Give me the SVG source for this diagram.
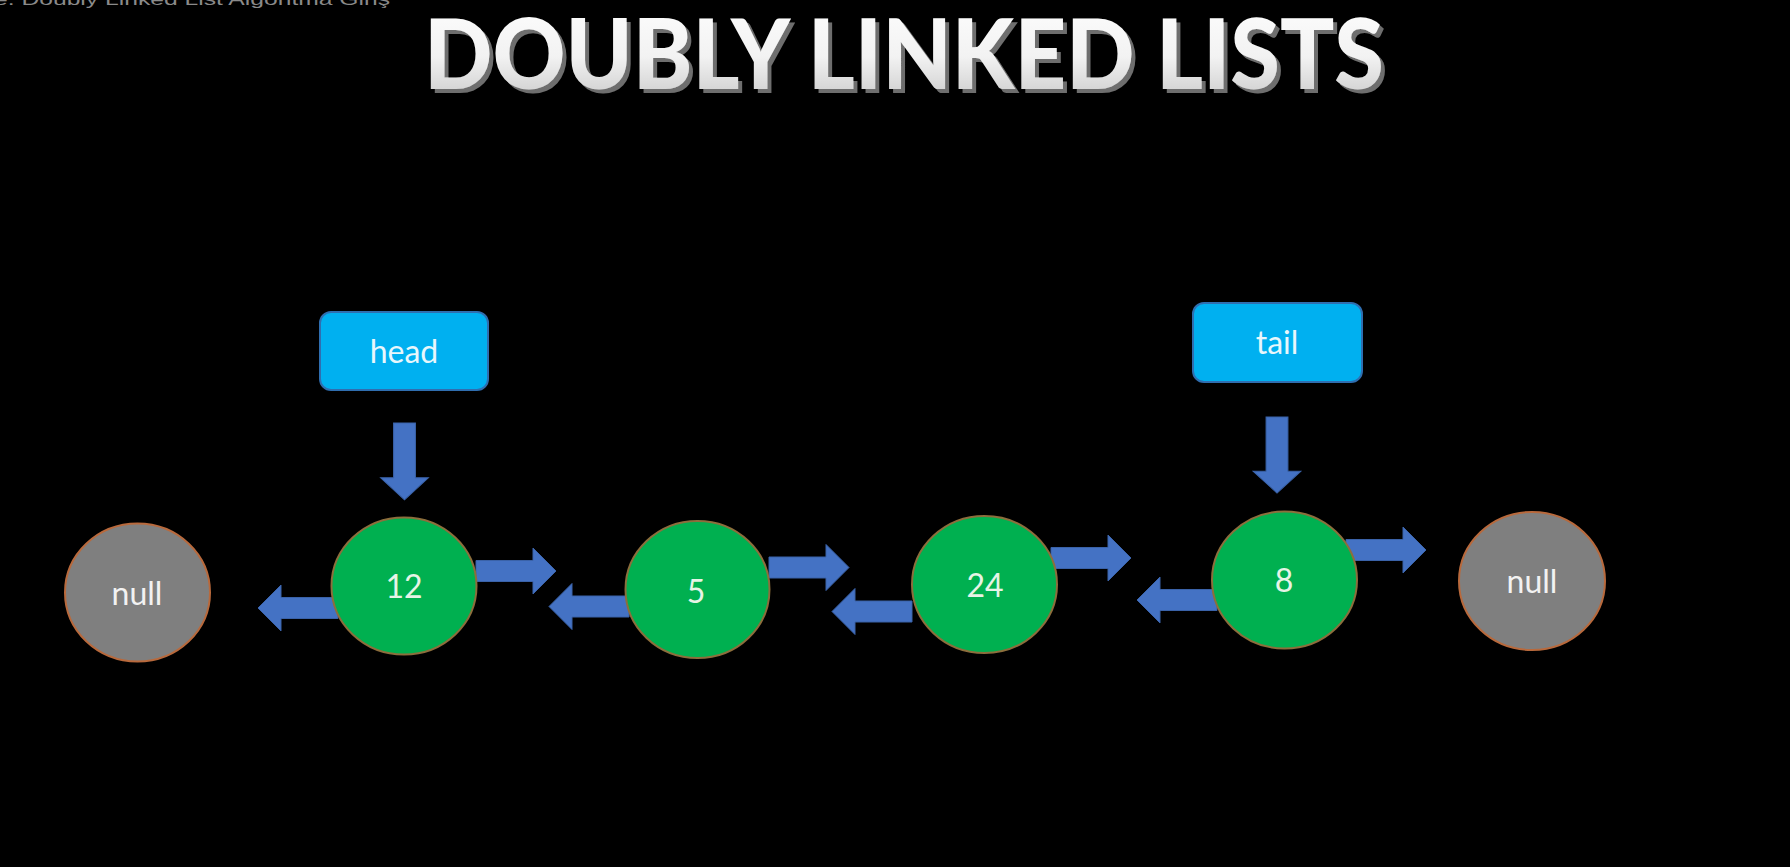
<svg xmlns="http://www.w3.org/2000/svg" xmlns:xlink="http://www.w3.org/1999/xlink" width="1790" height="867" viewBox="0 0 1790 867">
  <style>
    .title { font-family: Lato, "Open Sans", "DejaVu Sans", sans-serif; font-weight: 900; font-size: 98px; }
    .lbl { font-family: Lato, "Open Sans", "DejaVu Sans", sans-serif; font-size: 32px; text-anchor: middle; }
    .node { fill: #00B050; stroke: #8C6E3C; stroke-width: 2; }
    .null { fill: #7F7F7F; stroke: #B8693C; stroke-width: 2; }
    .box { fill: #00B0F0; stroke: #2F6EB0; stroke-width: 2; }
    .arrow { fill: #4472C4; stroke: #3A62A8; stroke-width: 1; }
    .ntext { fill: #E6F4E6; }
    .wtext { fill: #F2F2F2; }
    .btext { fill: #E8F7FC; }
  </style>
  <defs>
    <linearGradient id="tg" x1="0" y1="0" x2="0" y2="1">
      <stop offset="0" stop-color="#FFFFFF"/>
      <stop offset="0.55" stop-color="#F2F2F2"/>
      <stop offset="1" stop-color="#C4C4C4"/>
    </linearGradient>
    <filter id="shadow" x="-5%" y="-20%" width="110%" height="140%">
      <feOffset in="SourceAlpha" dx="4" dy="4" result="off"/>
      <feFlood flood-color="#6E6E6E"/>
      <feComposite in2="off" operator="in" result="sh"/>
      <feMerge>
        <feMergeNode in="sh"/>
        <feMergeNode in="SourceGraphic"/>
      </feMerge>
    </filter>
    <path id="arr" d="M0,-10.5 H57 V-23 L80,0 L57,23 V10.5 H0 Z"/>
  </defs>
  <rect x="0" y="0" width="1790" height="867" fill="#000000"/>
  <text x="-6" y="5" font-family="'Liberation Sans', Arial, sans-serif" font-size="17" fill="#8A8A8A" textLength="396" lengthAdjust="spacingAndGlyphs">e: Doubly Linked List Algoritma Giriş</text>
  <g id="title">
    <text class="title" x="424" y="89" fill="url(#tg)" filter="url(#shadow)" textLength="960" lengthAdjust="spacingAndGlyphs">DOUBLY LINKED LISTS</text>
  </g>
  <g id="connectors">
    <use href="#arr" class="arrow" transform="translate(404.5,423) rotate(90) scale(0.96,1.04)"/>
    <use href="#arr" class="arrow" transform="translate(1277,417) rotate(90) scale(0.95,1.04)"/>
    <use href="#arr" class="arrow" transform="translate(476,571)"/>
    <use href="#arr" class="arrow" transform="translate(769,567.5)"/>
    <use href="#arr" class="arrow" transform="translate(1051,558)"/>
    <use href="#arr" class="arrow" transform="translate(1346,550)"/>
    <use href="#arr" class="arrow" transform="translate(338,608) scale(-1,1)"/>
    <use href="#arr" class="arrow" transform="translate(629,606.5) scale(-1,1)"/>
    <use href="#arr" class="arrow" transform="translate(912,611.5) scale(-1,1)"/>
    <use href="#arr" class="arrow" transform="translate(1217,600) scale(-1,1)"/>
  </g>
  <g id="head">
    <rect class="box" x="320" y="312" width="168" height="78" rx="11"/>
    <text class="lbl btext" x="404" y="363">head</text>
  </g>
  <g id="tail">
    <rect class="box" x="1193" y="303" width="169" height="79" rx="11"/>
    <text class="lbl btext" x="1277" y="354">tail</text>
  </g>
  <g id="null-left">
    <ellipse class="null" cx="137.5" cy="592.5" rx="72.5" ry="69"/>
    <text class="lbl wtext" x="137" y="605">null</text>
  </g>
  <g id="node-12">
    <ellipse class="node" cx="404" cy="586" rx="72.5" ry="68.5"/>
    <text class="lbl ntext" x="404" y="598">12</text>
  </g>
  <g id="node-5">
    <ellipse class="node" cx="697.5" cy="589.5" rx="72" ry="68.5"/>
    <text class="lbl ntext" x="696" y="603">5</text>
  </g>
  <g id="node-24">
    <ellipse class="node" cx="984.5" cy="584.5" rx="72.5" ry="68.5"/>
    <text class="lbl ntext" x="985" y="597">24</text>
  </g>
  <g id="node-8">
    <ellipse class="node" cx="1284.5" cy="580" rx="72.5" ry="68.5"/>
    <text class="lbl ntext" x="1284" y="592">8</text>
  </g>
  <g id="null-right">
    <ellipse class="null" cx="1532" cy="581" rx="73" ry="69"/>
    <text class="lbl wtext" x="1532" y="593">null</text>
  </g>
</svg>
